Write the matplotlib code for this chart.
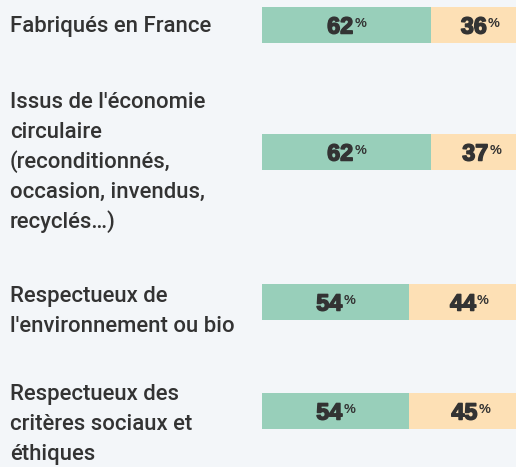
import matplotlib
matplotlib.use("Agg")
import matplotlib.pyplot as plt
import matplotlib.patheffects as pe

# data
labels = [
    "Fabriqués en France",
    "Issus de l'économie\ncirculaire\n(reconditionnés,\noccasion, invendus,\nrecyclés…)",
    "Respectueux de\nl'environnement ou bio",
    "Respectueux des\ncritères sociaux et\néthiques",
]
oui = [62, 62, 54, 54]
non = [36, 37, 44, 45]

# layout (pixels from top)
W, H = 516, 467
bar_centers = [25, 152, 302, 411]
label_baselines = [32, 108, 302, 400]
line_step = 30
bar_h = 36

bg = "#f3f6f9"
green = "#98cfba"
orange = "#fde0b5"
dark = "#333333"

fig = plt.figure(figsize=(W / 100, H / 100), dpi=100)
fig.patch.set_facecolor(bg)

# bar axes: 0..100 spans x=262..535 px (runs past the right edge)
ax = fig.add_axes([262 / W, 0, 273 / W, 1])
ax.set_facecolor("none")
ax.set_xlim(0, 100)
ax.set_ylim(H, 0)
ax.axis("off")

ax.barh(bar_centers, oui, height=bar_h, color=green)
ax.barh(bar_centers, non, left=oui, height=bar_h, color=orange)

# category labels, one text per line
for lab, yb in zip(labels, label_baselines):
    for k, line in enumerate(lab.split("\n")):
        fig.text(10 / W, 1 - (yb + k * line_step) / H, line, ha="left",
                 va="baseline", fontsize=15.9, family="Roboto",
                 fontweight="medium", color=dark)

fig.canvas.draw()
r = fig.canvas.get_renderer()
heavy = [pe.withStroke(linewidth=1.1, foreground=dark)]


def pct_label(xc, yc, val):
    t = ax.text(xc, yc + 8.5, str(val), ha="left", va="baseline", fontsize=16.8,
                family="Liberation Sans", fontweight="bold", color=dark,
                path_effects=heavy)
    p = ax.text(xc, yc + 2.3, "%", ha="left", va="baseline", fontsize=9.5,
                family="Liberation Sans", fontweight="bold", color=dark)
    bt = t.get_window_extent(r)
    bp = p.get_window_extent(r)
    total = bt.width + bp.width + 1
    inv = ax.transData.inverted()
    x0_px = ax.transData.transform((xc, yc))[0] - total / 2
    t.set_x(inv.transform((x0_px, 0))[0])
    p.set_x(inv.transform((x0_px + bt.width + 1, 0))[0])


for i, yc in enumerate(bar_centers):
    pct_label(oui[i] / 2, yc, oui[i])
    pct_label(oui[i] + non[i] / 2, yc, non[i])

fig.savefig("out.png", dpi=100, facecolor=bg)
